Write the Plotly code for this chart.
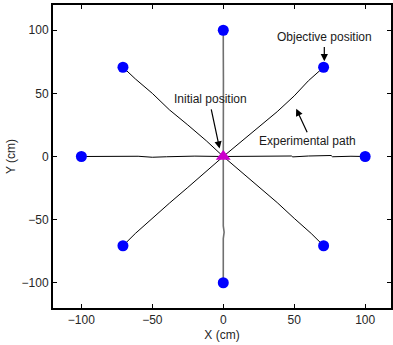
import plotly.graph_objects as go

# Objective positions (targets)
target_x = [100, 70.7, 0, -70.7, -100, -70.7, 0, 70.7]
target_y = [0, 70.7, 100, 70.7, 0, -70.7, -100, -70.7]

# Experimental paths, from origin to each target
path_e_x = [0, 20, 40, 48, 49, 60, 76, 77, 90, 100]
path_e_y = [0, 0.2, 0.3, 0.4, -0.3, 0.4, 0.8, -0.2, 0.2, 0]
path_ne_x = [0, 12, 25, 38, 50, 60, 70.7]
path_ne_y = [0, 11, 23, 35.5, 48, 60, 70.7]
path_n_x = [0, 0.3, 0.1, 0, 0]
path_n_y = [0, 30, 60, 85, 100]
path_nw_x = [0, -12, -25, -38, -50, -62, -70.7]
path_nw_y = [0, 12.5, 25, 37, 50, 61.5, 70.7]
path_w_x = [0, -20, -40, -50, -60, -80, -100]
path_w_y = [0, 0.3, -0.2, -0.6, 0.2, 0.1, 0]
path_sw_x = [0, -12, -25, -38, -50, -62, -70.7]
path_sw_y = [0, -12, -24.5, -37, -49, -61, -70.7]
path_s_x = [0, 0, 0.6, 0, 0]
path_s_y = [0, -55, -60, -65, -100]
path_se_x = [0, 12, 25, 38, 50, 62, 70.7]
path_se_y = [0, -11.5, -24, -36.5, -49, -61, -70.7]

init_x = [0]
init_y = [0]

FONT = "Liberation Sans, Arial, sans-serif"

fig = go.Figure()

paths = [
    (path_e_x, path_e_y, "black", 1),
    (path_ne_x, path_ne_y, "black", 1),
    (path_nw_x, path_nw_y, "black", 1),
    (path_w_x, path_w_y, "black", 1),
    (path_sw_x, path_sw_y, "black", 1),
    (path_se_x, path_se_y, "black", 1),
    (path_n_x, path_n_y, "#707070", 1.6),
    (path_s_x, path_s_y, "#707070", 1.6),
]
for px, py, c, w in paths:
    fig.add_trace(go.Scatter(x=px, y=py, mode="lines",
                             line=dict(color=c, width=w), showlegend=False,
                             hoverinfo="skip"))

fig.add_trace(go.Scatter(x=target_x, y=target_y, mode="markers",
                         marker=dict(color="#0000ff", size=11, line=dict(width=0)),
                         showlegend=False))
fig.add_trace(go.Scatter(x=init_x, y=init_y, mode="markers",
                         marker=dict(color="#cc00cc", size=13, symbol="triangle-up",
                                     line=dict(width=0)),
                         showlegend=False))

ann_font = dict(family=FONT, size=12, color="#1a1a1a")
fig.add_annotation(x=71.2, y=75.5, ax=71.2, ay=88, xref="x", yref="y",
                   axref="x", ayref="y", showarrow=True, arrowhead=2,
                   arrowsize=1.2, arrowwidth=1.2, arrowcolor="black", text="")
fig.add_annotation(x=71.4, y=95, text="Objective position", showarrow=False,
                   font=ann_font)
fig.add_annotation(x=-2.6, y=6.3, ax=-8.7, ay=38.5, xref="x", yref="y",
                   axref="x", ayref="y", showarrow=True, arrowhead=2,
                   arrowsize=1.2, arrowwidth=1.2, arrowcolor="black", text="")
fig.add_annotation(x=-9.1, y=45.7, text="Initial position", showarrow=False,
                   font=ann_font)
fig.add_annotation(x=51.4, y=37.8, ax=59.6, ay=18.1, xref="x", yref="y",
                   axref="x", ayref="y", showarrow=True, arrowhead=2,
                   arrowsize=1.2, arrowwidth=1.2, arrowcolor="black", text="")
fig.add_annotation(x=59.4, y=12.3, text="Experimental path", showarrow=False,
                   font=ann_font)

axis_common = dict(
    showgrid=False, zeroline=False, showline=True, linecolor="black",
    linewidth=2, mirror="ticks", ticks="inside", ticklen=4, tickwidth=1,
    tickcolor="black", tickfont=dict(family=FONT, size=12, color="#262626"),
)
fig.update_xaxes(range=[-120, 118.2], tickvals=[-100, -50, 0, 50, 100],
                 title=dict(text="X (cm)", font=dict(family=FONT, size=12, color="#262626"),
                            standoff=4),
                 **axis_common)
fig.update_yaxes(range=[-120, 120], tickvals=[-100, -50, 0, 50, 100],
                 title=dict(text="Y (cm)", font=dict(family=FONT, size=12, color="#262626"),
                            standoff=3),
                 **axis_common)

fig.update_layout(width=393, height=345, margin=dict(l=53, r=0, t=5, b=37),
                  plot_bgcolor="white", paper_bgcolor="white",
                  font=dict(family=FONT, size=12))

fig.write_html("out.html")
